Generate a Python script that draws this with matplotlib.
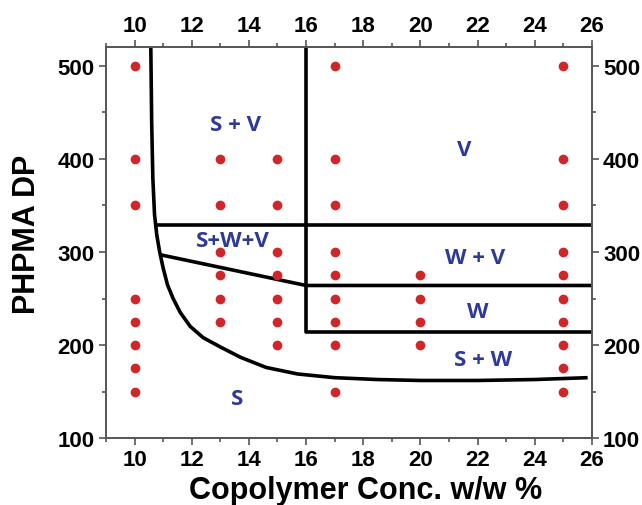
import matplotlib.pyplot as plt
from matplotlib.ticker import MultipleLocator

plt.rcParams.update({
    "font.family": "Liberation Sans", "font.weight": "bold",
    "axes.linewidth": 1.4, "axes.edgecolor": "#555555",
})
RED, BLUE = "#D0262A", "#2E3A94"

# sampled compositions (copolymer conc. w/w %, PHPMA DP)
conc_10 = [500, 400, 350, 250, 225, 200, 175, 150]
conc_13 = [400, 350, 300, 275, 250, 225]
conc_15 = [400, 350, 300, 275, 250, 225, 200]
conc_17 = [500, 400, 350, 300, 275, 250, 225, 200, 150]
conc_20 = [275, 250, 225, 200]
conc_25 = [500, 400, 350, 300, 275, 250, 225, 200, 175, 150]
samples = {10: conc_10, 13: conc_13, 15: conc_15, 17: conc_17, 20: conc_20, 25: conc_25}

# phase boundaries
s_curve_x = [10.57, 10.60, 10.64, 10.70, 10.78, 10.88, 11.00, 11.15, 11.35, 11.60,
             11.95, 12.40, 13.00, 13.70, 14.60, 15.70, 17.00, 18.50, 20.00, 22.00,
             24.00, 25.85]
s_curve_y = [520, 440, 380, 340, 318, 300, 283, 265, 250, 235,
             220, 208, 198, 187, 176, 169, 165, 163, 162, 162,
             163, 165]
sv_x, sv_y = [10.72, 26], [329, 329]
swv_x, swv_y = [10.9, 16, 26], [297, 264, 264]
v_line_x, v_line_y = [16, 16, 26], [520, 214, 214]

labels = ["S + V", "V", "S+W+V", "W + V", "W", "S + W", "S"]
label_x = [13.55, 21.55, 13.45, 21.9, 22.0, 22.2, 13.6]
label_y = [437, 410, 312, 294, 236, 185, 143]

fig = plt.figure(figsize=(6.42, 5.06), dpi=100)
ax = fig.add_axes([0.165, 0.132, 0.757, 0.773])

for x, ys in samples.items():
    ax.plot([x] * len(ys), ys, "o", color=RED, ms=7, mec="none", zorder=3)

for bx, by in [(s_curve_x, s_curve_y), (sv_x, sv_y), (swv_x, swv_y), (v_line_x, v_line_y)]:
    ax.plot(bx, by, color="black", lw=2.6, solid_capstyle="butt",
            solid_joinstyle="round", zorder=2)

for t, x, y in zip(labels, label_x, label_y):
    ax.text(x, y, t, color=BLUE, fontsize=16, fontweight="bold",
            family="Open Sans", ha="center", va="center")

ax.set_xlim(9, 26)
ax.set_ylim(100, 520)
ax.xaxis.set_major_locator(MultipleLocator(2))
ax.xaxis.set_minor_locator(MultipleLocator(1))
ax.yaxis.set_major_locator(MultipleLocator(100))
ax.yaxis.set_minor_locator(MultipleLocator(50))
ax.tick_params(which="both", top=True, right=True, labeltop=True, labelright=True,
               labelsize=16, width=1.2, color="#555555", pad=3)
ax.tick_params(which="major", length=5)
ax.tick_params(which="minor", length=3)
for lab in ax.get_xticklabels() + ax.get_yticklabels():
    lab.set_fontweight("bold")

ax.set_xlabel("Copolymer Conc. w/w %", fontsize=22, fontweight="bold")
ax.set_ylabel("PHPMA DP", fontsize=22, fontweight="bold")
ax.xaxis.set_label_coords(0.535, -0.093)
ax.yaxis.set_label_coords(-0.132, 0.524)

fig.savefig("out.png", dpi=100)
